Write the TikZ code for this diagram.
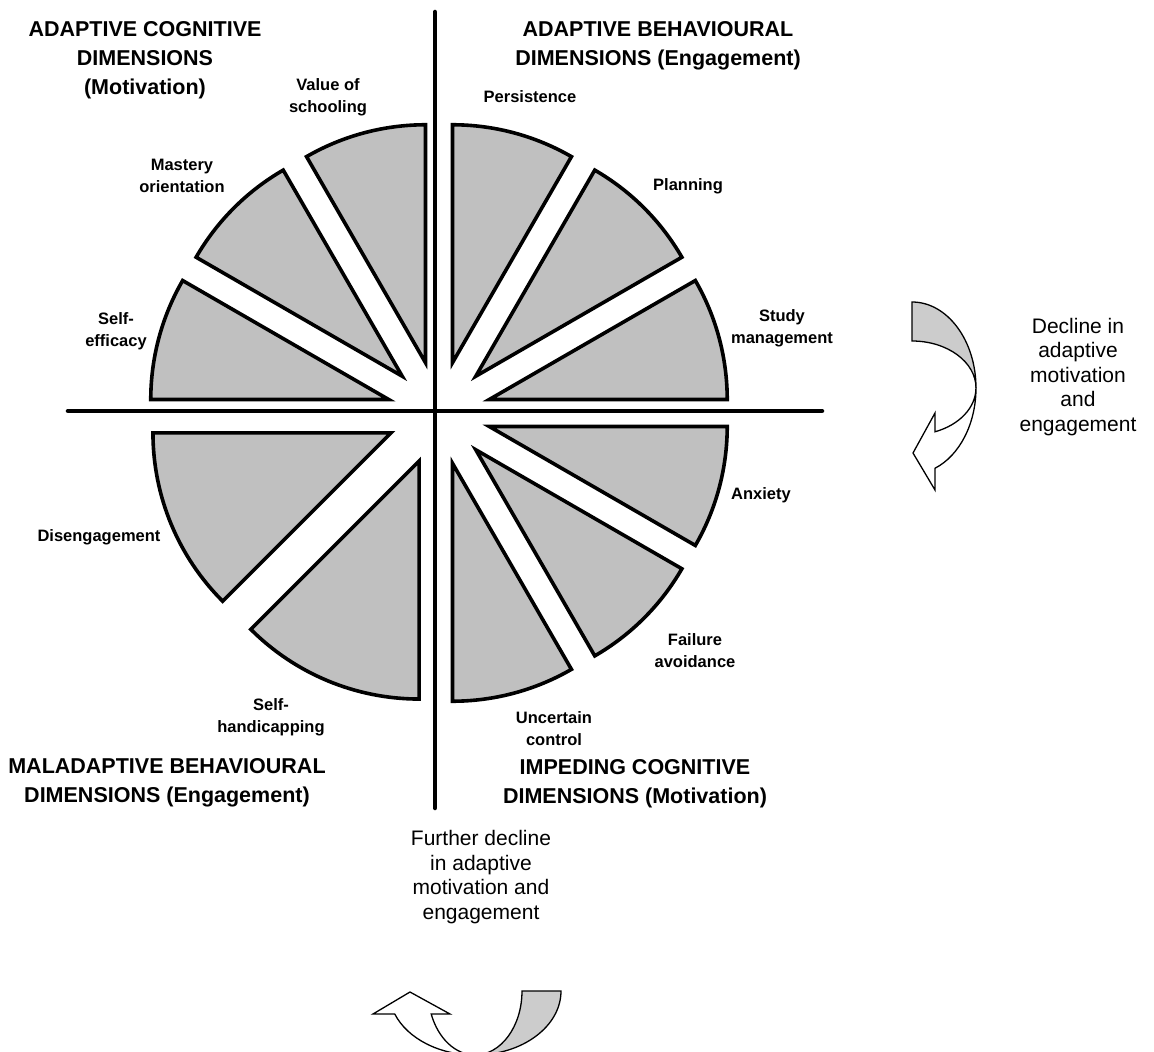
\documentclass[tikz,border=0pt]{standalone}
\usepackage{fontspec}
\setmainfont{Liberation Sans}
\usepackage{tikz}
\usetikzlibrary{calc}
\definecolor{wedgegray}{HTML}{C0C0C0}
\definecolor{arrowgray}{HTML}{CCCCCC}

\begin{document}
\begin{tikzpicture}[
    x=1pt, y=1pt,
    wedge/.style={draw, line width=3.6pt, fill=wedgegray, radius=238},
    axis/.style={line width=4.5pt, line cap=round},
    head/.style={font=\fontsize{21.5}{29}\selectfont\bfseries, align=center},
    lbl/.style={font=\fontsize{16.5}{22}\selectfont\bfseries, align=center},
    note/.style={font=\fontsize{21}{24.5}\selectfont, align=center},
    turnarrow/.pic={
        \draw[line width=1.3pt, fill=arrowgray] (0,86) arc[start angle=90, end angle=0, x radius=64, y radius=86]
            arc[start angle=0, end angle=90, x radius=64, y radius=47] -- cycle;
        \draw[line width=1.3pt, fill=white] (64,0) arc[start angle=0, end angle=-68.9, x radius=64, y radius=86]
            -- (23,-102) -- (1,-65) -- (23,-25) -- (23,-43.8)
            arc[start angle=-68.9, end angle=0, x radius=64, y radius=47] -- cycle;
    }
]
\useasboundingbox (-439,-639) rectangle (715,413);
\clip (-439,-639) rectangle (715,413);

% wheel
\draw[wedge] (15:52) -- ++(0:238) arc[start angle=0, end angle=30] -- cycle;
\draw[wedge] (45:52) -- ++(30:238) arc[start angle=30, end angle=60] -- cycle;
\draw[wedge] (75:52) -- ++(60:238) arc[start angle=60, end angle=90] -- cycle;
\draw[wedge] (105:52) -- ++(90:238) arc[start angle=90, end angle=120] -- cycle;
\draw[wedge] (135:52) -- ++(120:238) arc[start angle=120, end angle=150] -- cycle;
\draw[wedge] (165:52) -- ++(150:238) arc[start angle=150, end angle=180] -- cycle;
\draw[wedge] (202.5:52) -- ++(180:238) arc[start angle=180, end angle=225] -- cycle;
\draw[wedge] (247.5:52) -- ++(225:238) arc[start angle=225, end angle=270] -- cycle;
\draw[wedge] (285:52) -- ++(270:238) arc[start angle=270, end angle=300] -- cycle;
\draw[wedge] (315:52) -- ++(300:238) arc[start angle=300, end angle=330] -- cycle;
\draw[wedge] (345:52) -- ++(330:238) arc[start angle=330, end angle=360] -- cycle;

% axes
\coordinate (vtop) at (-4,401);
\coordinate (vbot) at (-4,-395);
\coordinate (hleft) at (-371,2);
\coordinate (hright) at (383,2);
\draw[axis] (vtop) -- (vbot);
\draw[axis] (hleft) -- (hright);

% quadrant titles
\node[head] (adcog) at (-294,353) {ADAPTIVE COGNITIVE\\DIMENSIONS\\(Motivation)};
\node[head] (adbeh) at (219,367) {ADAPTIVE BEHAVIOURAL\\DIMENSIONS (Engagement)};
\node[head] (malbeh) at (-272,-370) {MALADAPTIVE BEHAVIOURAL\\DIMENSIONS (Engagement)};
\node[head] (impcog) at (196,-371) {IMPEDING COGNITIVE\\DIMENSIONS (Motivation)};

% segment labels
\node[lbl] (schooling) at (-111,316) {Value of\\schooling};
\node[lbl] (mastery) at (-257,237) {Mastery\\orientation};
\node[lbl] (efficacy) at (-323,82) {Self-\\efficacy};
\node[lbl] (persist) at (91,316) {Persistence};
\node[lbl] (planning) at (249,227) {Planning};
\node[lbl] (study) at (343,85) {Study\\management};
\node[lbl] (anxiety) at (322,-82) {Anxiety};
\node[lbl] (failure) at (256,-238) {Failure\\avoidance};
\node[lbl] (uncertain) at (115,-316) {Uncertain\\control};
\node[lbl] (diseng) at (-340,-124) {Disengagement};
\node[lbl] (handicap) at (-168,-304) {Self-\\handicapping};

% decline arrows
\pic at (473,25) {turnarrow};
\node[note] (decline) at (639,36) {Decline in\\adaptive\\motivation\\and\\engagement};
\pic[rotate=-90] at (36,-578) {turnarrow};
\node[note] (further) at (42,-464) {Further decline\\in adaptive\\motivation and\\engagement};
\end{tikzpicture}
\end{document}
